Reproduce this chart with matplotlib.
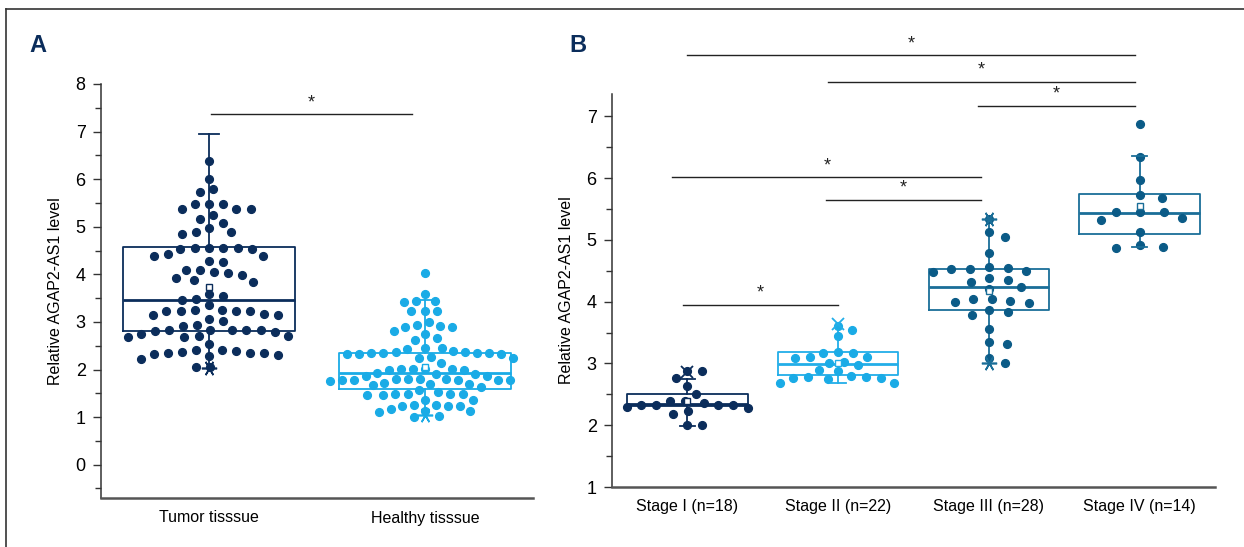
import numpy as np
import matplotlib
matplotlib.use('Agg')
import matplotlib.pyplot as plt
from matplotlib.lines import Line2D

# ---- panel A data (relative AGAP2-AS1 level) ----
tumor = [6.39, 6.01, 5.72, 5.79, 5.37, 5.38, 5.38, 5.47, 5.47, 5.47, 5.17, 5.25,
         5.08, 4.97, 4.84, 4.89, 4.89, 4.56, 4.56, 4.54, 4.56, 4.56, 4.54, 4.42,
         4.39, 4.39, 4.26, 4.28, 4.10, 4.10, 4.04, 3.93, 3.99, 4.03, 3.84, 3.89,
         3.59, 3.54, 3.48, 3.47, 3.15, 3.15, 3.25, 3.25, 3.23, 3.23, 3.24, 3.35,
         3.16, 3.06, 3.23, 2.94, 2.83, 2.83, 2.83, 2.83, 2.92, 3.01, 2.74, 2.68,
         2.70, 2.70, 2.80, 2.78, 2.82, 2.69, 2.53, 2.42, 2.34, 2.34, 2.34, 2.42,
         2.32, 2.37, 2.28, 2.31, 2.39, 2.22, 2.05, 2.05]
healthy = [4.02, 3.58, 3.42, 3.45, 3.43, 3.22, 3.22, 3.22, 3.00, 2.93, 2.89, 2.89,
           2.92, 2.81, 2.74, 2.67, 2.62, 2.44, 2.46, 2.46, 2.37, 2.32, 2.32, 2.25,
           2.25, 2.33, 2.35, 2.35, 2.37, 2.38, 2.34, 2.34, 2.26, 2.13, 2.00, 2.00,
           2.02, 2.02, 2.02, 2.02, 1.93, 1.91, 1.91, 1.86, 1.79, 1.79, 1.79, 1.80,
           1.81, 1.81, 1.79, 1.72, 1.78, 1.80, 1.87, 1.69, 1.69, 1.75, 1.64, 1.67,
           1.58, 1.49, 1.47, 1.52, 1.47, 1.49, 1.49, 1.49, 1.36, 1.36, 1.25, 1.24,
           1.24, 1.25, 1.18, 1.24, 1.10, 1.12, 1.03, 1.13, 1.01]
tissue_labels = ['Tumor tisssue', 'Healthy tisssue']

# box summary
tissue_q1 = [2.80, 1.60]
tissue_med = [3.46, 1.92]
tissue_q3 = [4.57, 2.35]
tissue_wlo = [2.04, 1.05]
tissue_whi = [6.94, 3.47]
tissue_mean = [3.74, 2.06]

# ---- panel B data ----
stage1 = [2.87, 2.87, 2.63, 2.76, 2.50, 2.39, 2.39, 2.32, 2.32, 2.29, 2.23, 2.28,
          2.32, 2.33, 2.36, 2.18, 2.00, 2.00]
stage2 = [3.54, 3.61, 3.44, 3.18, 3.11, 3.08, 3.01, 3.10, 3.17, 3.17, 3.03, 2.97,
          2.89, 2.87, 2.79, 2.78, 2.76, 2.68, 2.68, 2.75, 2.77, 2.78]
stage3 = [5.33, 5.12, 5.04, 4.79, 4.56, 4.54, 4.50, 4.48, 4.53, 4.53, 4.35, 4.32,
          4.38, 4.24, 4.21, 4.05, 4.01, 3.99, 4.04, 3.98, 3.87, 3.79, 3.84, 3.55,
          3.35, 3.31, 3.09, 3.00]
stage4 = [6.88, 6.34, 5.97, 5.72, 5.67, 5.45, 5.45, 5.45, 5.32, 5.35, 5.12, 4.91,
          4.88, 4.87]
stage_labels = ['Stage I (n=18)', 'Stage II (n=22)', 'Stage III (n=28)', 'Stage IV (n=14)']

stage_q1 = [2.31, 2.81, 3.86, 5.09]
stage_med = [2.35, 2.99, 4.24, 5.44]
stage_q3 = [2.50, 3.19, 4.53, 5.74]
stage_wlo = [1.99, 2.69, 3.00, 4.88]
stage_whi = [2.75, 3.64, 5.33, 6.35]
stage_mean = [2.39, 3.00, 4.17, 5.54]
stage_x_mark = [2.86, 3.64, None, None]

# significance brackets: (x start, x end, level)
sig_a = [(0.01, 0.94, 7.36)]
sig_b = [(0.0, 2.97, 7.99), (0.93, 2.97, 7.56), (1.93, 2.97, 7.17),
         (-0.1, 1.95, 6.02), (0.92, 1.95, 5.65), (-0.03, 1.0, 3.95)]

navy = '#0b2d5b'
light = '#1aabe6'
teal = '#0b5b87'
plt.rcParams['font.family'] = ['Liberation Sans', 'DejaVu Sans']

fig = plt.figure(figsize=(12.44, 5.47), dpi=100)
axA = fig.add_axes([101 / 1244, 1 - 498 / 547, 432 / 1244, 414 / 547])
axB = fig.add_axes([612 / 1244, 1 - 487 / 547, 603 / 1244, 393 / 547])

axA.set_xlim(-0.5, 1.5)
axA.set_ylim(-0.7, 8)
axB.set_xlim(-0.5, 3.5)
axB.set_ylim(1, 7.36)


def swarm(ax, x0, vals, d=10.5, sx=1.0):
    # simple beeswarm layout in pixel space, sx stretches it sideways
    vals = np.asarray(vals, float)
    pts = ax.transData.transform(np.column_stack([np.full(len(vals), x0), vals]))
    placed = []
    offs = np.zeros(len(vals))
    for i in np.argsort(-vals):
        cy = pts[i, 1]
        cands = [0.0]
        for (ox, oy) in placed:
            dy = cy - oy
            if abs(dy) < d:
                dx = np.sqrt(d * d - dy * dy)
                cands += [ox + dx, ox - dx]
        cands.sort(key=abs)
        for c in cands:
            if all((c - ox) ** 2 + (cy - oy) ** 2 >= d * d - 1e-6 for ox, oy in placed):
                offs[i] = c
                break
        placed.append((offs[i], cy))
    px = np.column_stack([pts[:, 0] + offs * sx, pts[:, 1]])
    return ax.transData.inverted().transform(px)[:, 0]


def draw_box(ax, pos, q1, med, q3, lo, hi, mean, color, ptcolor, vals, d, sx):
    stats = [dict(q1=q1, med=med, q3=q3, whislo=lo, whishi=hi, mean=mean, fliers=[])]
    ax.bxp(stats, positions=[pos], widths=0.8, showcaps=False, showfliers=False,
           boxprops=dict(color=color, lw=1.3), whiskerprops=dict(color=color, lw=1.3),
           medianprops=dict(color=color, lw=2.0), manage_ticks=False, zorder=2)
    xs = swarm(ax, pos, vals, d, sx)
    ax.plot(xs, vals, 'o', ms=5.6, color=ptcolor, mec=ptcolor, zorder=3, clip_on=False)
    ax.plot([pos], [mean], 's', ms=5, mfc='white', mec=color, mew=1.0, zorder=4)


def cap(ax, pos, y, color, w=0.09):
    ax.plot([pos - w / 2, pos + w / 2], [y, y], color=color, lw=1.3, zorder=4)


# panel A
tissue_vals = [tumor, healthy]
tissue_cols = [navy, light]
tissue_sx = [1.3, 1.1]
for i in range(2):
    draw_box(axA, i, tissue_q1[i], tissue_med[i], tissue_q3[i], tissue_wlo[i], tissue_whi[i],
             tissue_mean[i], tissue_cols[i], tissue_cols[i], tissue_vals[i], 11.0, tissue_sx[i])
    cap(axA, i, tissue_whi[i], tissue_cols[i], 0.09)
    axA.plot([i], [tissue_wlo[i]], marker=(6, 2, 30), ms=11, color=tissue_cols[i],
             mew=1.2, zorder=4)

# panel B
stage_vals = [stage1, stage2, stage3, stage4]
stage_pts = [navy, light, teal, teal]
stage_box = [navy, '#22aee8', '#1a6e98', '#1a6e98']
stage_sx = [1.5, 1.5, 1.9, 2.4]
for i in range(4):
    draw_box(axB, i, stage_q1[i], stage_med[i], stage_q3[i], stage_wlo[i], stage_whi[i],
             stage_mean[i], stage_box[i], stage_pts[i], stage_vals[i], 10.0, stage_sx[i])
    if i in (0, 3):
        cap(axB, i, stage_whi[i], stage_box[i], 0.1)
    if i in (0, 1, 3):
        cap(axB, i, stage_wlo[i], stage_box[i], 0.1)
    if stage_x_mark[i] is not None:
        axB.plot([i], [stage_x_mark[i]], 'x', ms=8, color=stage_box[i], mew=1.3, zorder=4)
    if i == 2:
        for y in (stage_wlo[i], stage_whi[i]):
            axB.plot([i], [y], marker=(6, 2, 30), ms=11, color=stage_box[i], mew=1.2, zorder=4)

for ax, sigs in ((axA, sig_a), (axB, sig_b)):
    for x1, x2, y in sigs:
        ax.plot([x1, x2], [y, y], color='#222222', lw=1.0, clip_on=False)
        ax.annotate('*', ((x1 + x2) / 2, y), xytext=(0, 2), textcoords='offset points',
                    ha='center', va='bottom', fontsize=13, color='#222222',
                    annotation_clip=False)

for ax in (axA, axB):
    for s in ('top', 'right'):
        ax.spines[s].set_visible(False)
    ax.spines['left'].set_color('#333333')
    ax.spines['left'].set_linewidth(1.1)
    ax.spines['bottom'].set_color('#555555')
    ax.spines['bottom'].set_linewidth(1.8)
    ax.tick_params(axis='y', which='major', length=6, width=1.0, color='#333333',
                   labelsize=13, pad=5)
    ax.tick_params(axis='y', which='minor', length=4, width=1.0, color='#333333')
    ax.tick_params(axis='x', length=0, labelsize=11.5, pad=9)
    ax.set_ylabel('Relative AGAP2-AS1 level', fontsize=11.5, labelpad=9)

axA.set_yticks(range(0, 9))
axA.set_yticks(np.arange(-0.5, 8.0, 0.5), minor=True)
axA.set_xticks([0, 1])
axA.set_xticklabels(tissue_labels)
axB.set_yticks(range(1, 8))
axB.set_yticks(np.arange(1.5, 7.4, 0.5), minor=True)
axB.set_xticks(range(4))
axB.set_xticklabels(stage_labels)

fig.text(38 / 1244, 1 - 45 / 547, 'A', fontsize=17, fontweight='bold', color=navy,
         ha='center', va='center')
fig.text(578 / 1244, 1 - 45 / 547, 'B', fontsize=17, fontweight='bold', color=navy,
         ha='center', va='center')

# outer frame (top and left edges)
top = 1 - 9 / 547
left = 6 / 1244
fig.add_artist(Line2D([left, 1], [top, top], color='#333333', lw=1.2))
fig.add_artist(Line2D([left, left], [0, top], color='#333333', lw=1.2))

fig.savefig('out.png', dpi=100)
